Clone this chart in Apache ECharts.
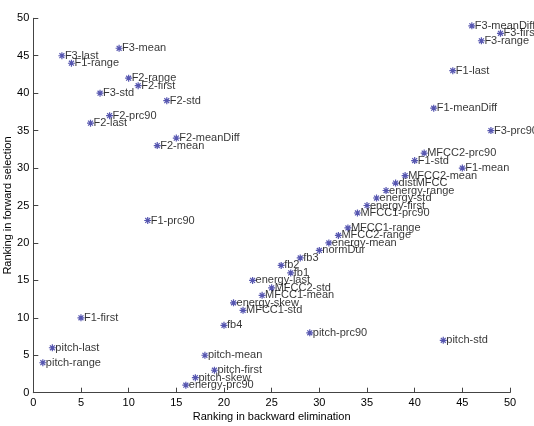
<!DOCTYPE html>
<html><head><meta charset="utf-8">
<script src="https://cdn.jsdelivr.net/npm/echarts@6/dist/echarts.min.js"></script>
<style>html,body{margin:0;padding:0;background:#fff}#c{width:534px;height:426px}</style>
</head><body><div id="c"></div>
<script>
const names = ["F3-meanDiff","F3-first","F3-range","F1-last","F1-meanDiff","F3-prc90","MFCC2-prc90","F1-std","F1-mean","MFCC2-mean","distMFCC","energy-range","energy-std","energy-first","MFCC1-prc90","MFCC1-range","MFCC2-range","energy-mean","normDur","fb3","fb2","fb1","energy-last","MFCC2-std","MFCC1-mean","energy-skew","MFCC1-std","fb4","pitch-prc90","pitch-std","pitch-mean","pitch-first","pitch-skew","energy-prc90","pitch-last","pitch-range","F1-first","F1-prc90","F2-meanDiff","F2-mean","F3-mean","F3-last","F1-range","F2-range","F2-first","F3-std","F2-std","F2-prc90","F2-last"];
const backward = [46,49,47,44,42,48,41,40,45,39,38,37,36,35,34,33,32,31,30,28,26,27,23,25,24,21,22,20,29,43,18,19,17,16,2,1,5,12,15,13,9,3,4,10,11,7,14,8,6];
const forward  = [49,48,47,43,38,35,32,31,30,29,28,27,26,25,24,22,21,20,19,18,17,16,15,14,13,12,11,9,8,7,5,3,2,1,6,4,10,23,34,33,46,45,44,42,41,40,39,37,36];
const xTicks = [0,5,10,15,20,25,30,35,40,45,50];
const yTicks = [0,5,10,15,20,25,30,35,40,45,50];

const data = names.map((n,i)=>({name:n, value:[backward[i], forward[i]]}));
const chart = echarts.init(document.getElementById('c'), null, {renderer:'canvas'});
const axisCommon = {
  interval: 5,
  splitLine:{show:false},
  axisLine:{show:true, lineStyle:{color:'#444', width:1}},
  axisTick:{show:true, inside:true, length:5, lineStyle:{color:'#444'}},
  axisLabel:{color:'#000', fontFamily:'Liberation Sans', fontSize:11},
  nameLocation:'middle',
  nameMoveOverlap:false,
  nameTextStyle:{color:'#000', fontFamily:'Liberation Sans', fontSize:11}
};
chart.setOption({
  animation:false,
  backgroundColor:'#fff',
  grid:{left:33.3, right:24, top:18.3, bottom:33.3, containLabel:false, outerBoundsMode:'none'},
  xAxis: Object.assign({}, axisCommon, {type:'value', min:xTicks[0], max:xTicks[xTicks.length-1],
    name:'Ranking in backward elimination', nameGap:19,
    axisLabel:Object.assign({}, axisCommon.axisLabel, {margin:5})}),
  yAxis: Object.assign({}, axisCommon, {type:'value', min:yTicks[0], max:yTicks[yTicks.length-1],
    name:'Ranking in forward selection', nameGap:20,
    axisLabel:Object.assign({}, axisCommon.axisLabel, {margin:4})}),
  series:[{
    type:'scatter',
    data:data,
    symbol:'path://M0,-10L0,10M-10,0L10,0M-7,-7L7,7M-7,7L7,-7',
    symbolSize:7,
    clip:false,
    itemStyle:{color:'none', borderColor:'#2c2c9c', borderWidth:1.2},
    label:{show:true, position:'right', distance:-3, formatter:p=>p.name,
      color:'#000', fontFamily:'Liberation Sans', fontSize:11},
    labelLayout:{hideOverlap:false}
  }]
});
</script></body></html>
